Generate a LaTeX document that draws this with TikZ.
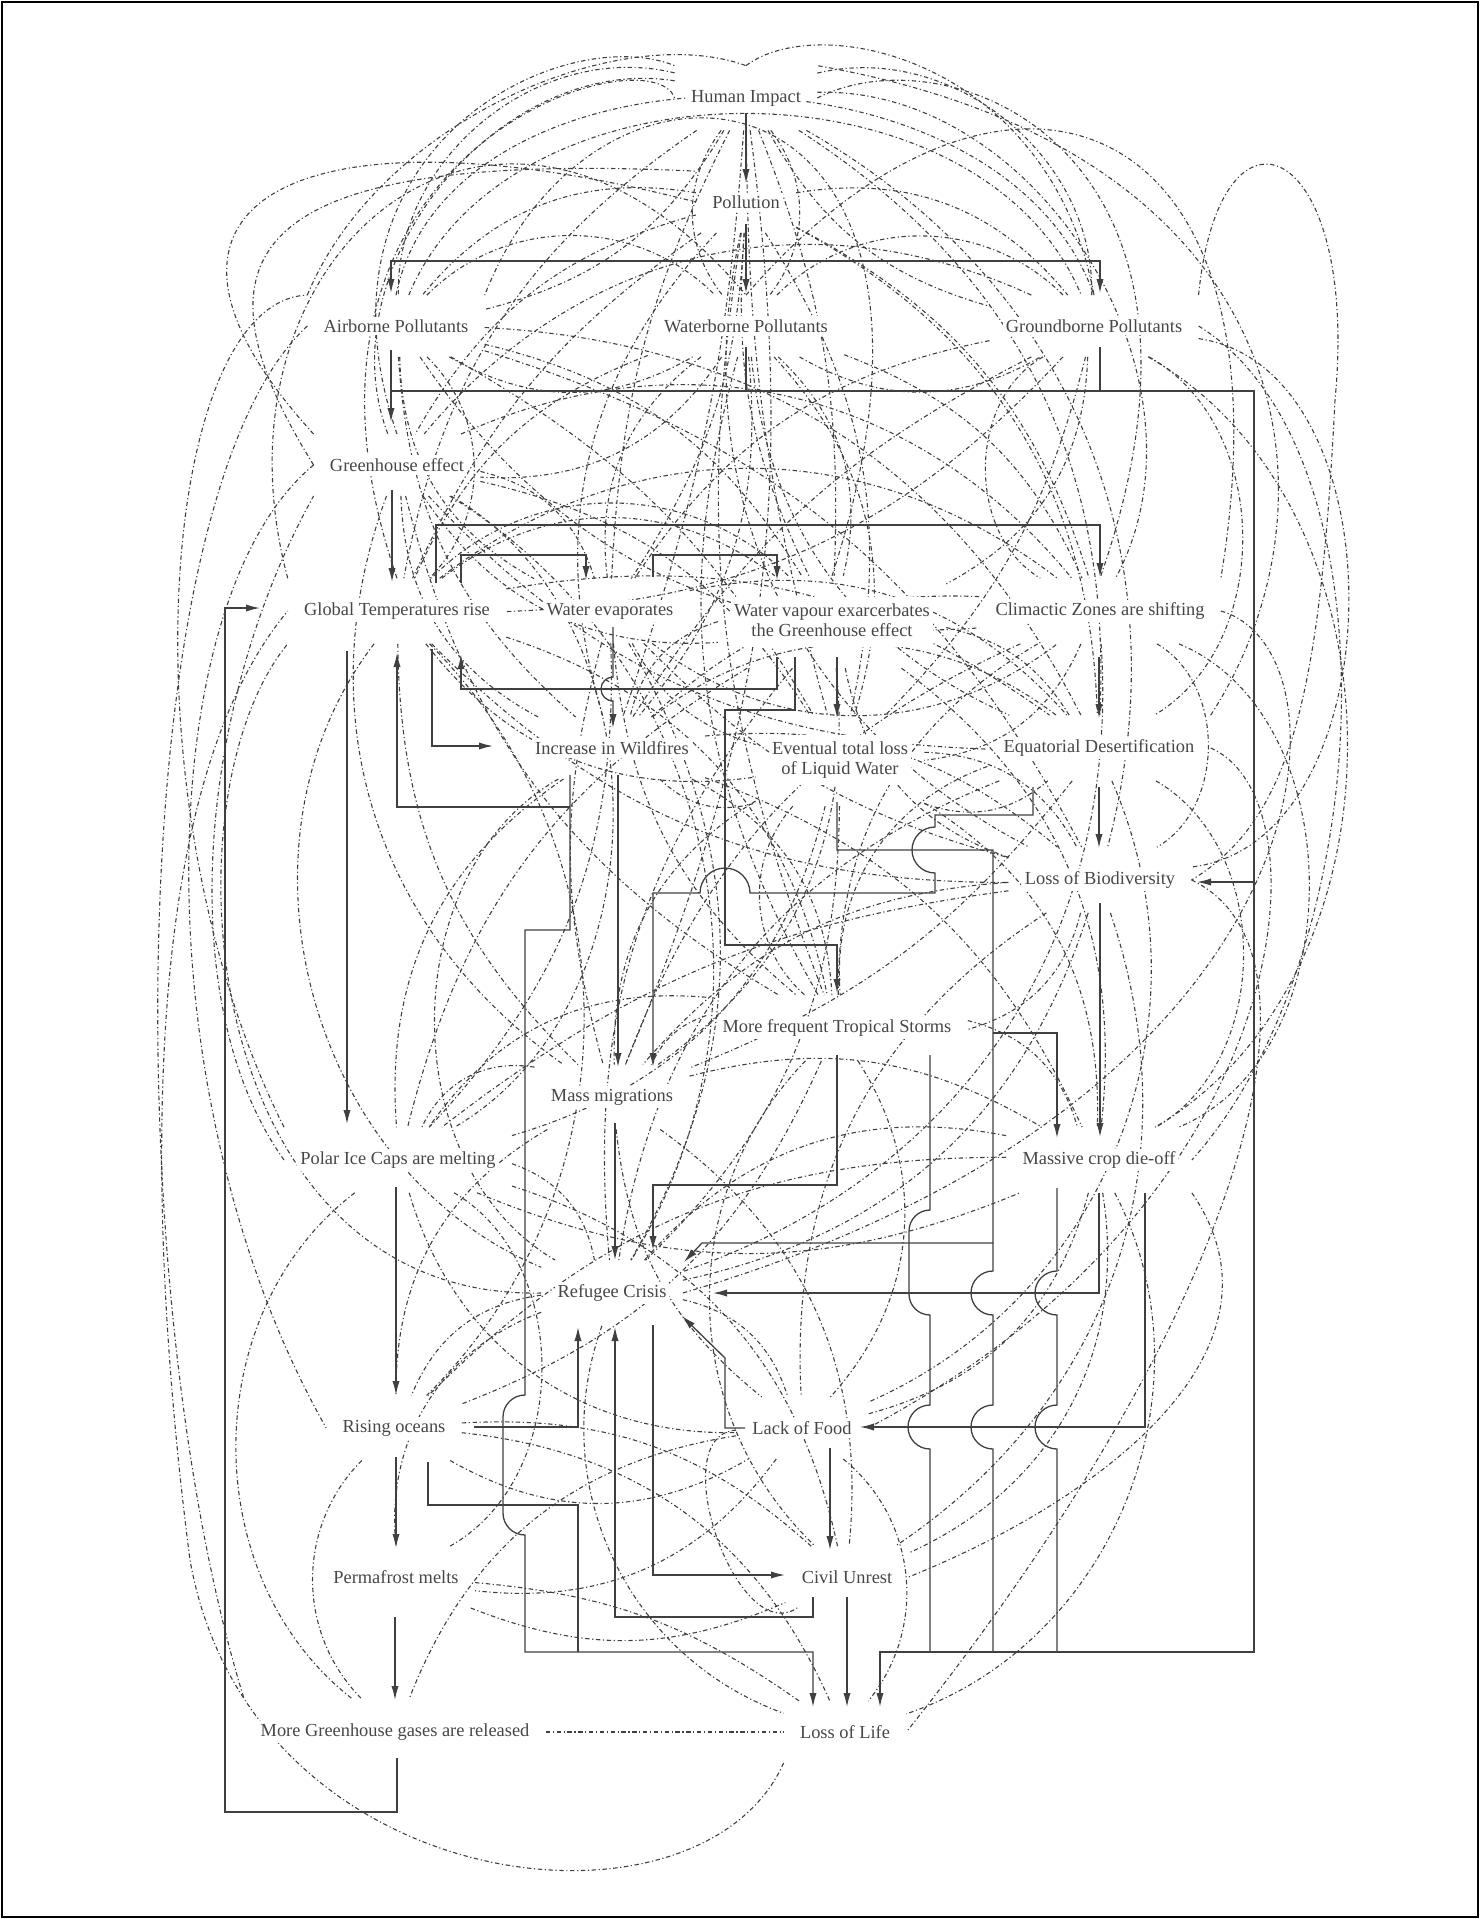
\documentclass[tikz,border=0pt]{standalone}
\usepackage{fontspec}
\setmainfont{Liberation Serif}
\usetikzlibrary{arrows.meta,calc}
\pgfdeclarelayer{bg}
\pgfsetlayers{bg,main}
\newcommand{\wbx}[1]{{\setlength{\fboxsep}{1.5pt}\colorbox{white}{#1}}}
\newcommand{\wbt}[2]{{\setlength{\fboxsep}{1.5pt}\colorbox{white}{\begin{tabular}{@{}c@{}}#1\\[-1.2pt]#2\end{tabular}}}}
\begin{document}
\begin{tikzpicture}[x=0.5pt,y=-0.5pt,
  nd/.style={font=\fontsize{9.2}{11.5}\selectfont, text=black!72, inner xsep=6.5pt, inner ysep=10.5pt, align=center},
  dd/.style={draw=black!75, line width=0.55pt, dash pattern=on 2.2pt off 1.3pt on 0.6pt off 1.3pt},
  sl/.style={draw=black!75, line width=0.65pt},
  sa/.style={sl, -{Latex[length=7pt,width=3.6pt]}}]
\useasboundingbox (0,0) rectangle (1480,1919);
\draw[line width=1pt] (2,2) rectangle (1478,1917);
% nodes
\node[nd] (HI) at (746,98) {\wbx{Human Impact}};
\node[nd] (PO) at (746,202) {\wbx{Pollution}};
\node[nd] (AP) at (396,326) {\wbx{Airborne Pollutants}};
\node[nd] (WP) at (746,326) {\wbx{Waterborne Pollutants}};
\node[nd] (GP) at (1094,326) {\wbx{Groundborne Pollutants}};
\node[nd] (GH) at (397,465) {\wbx{Greenhouse effect}};
\node[nd] (GT) at (397,611) {\wbx{Global Temperatures rise}};
\node[nd] (WE) at (610,611) {\wbx{Water evaporates}};
\node[nd] (WV) at (832,622) {\wbt{Water vapour exarcerbates}{the Greenhouse effect}};
\node[nd] (CZ) at (1100,611) {\wbx{Climactic Zones are shifting}};
\node[nd] (IW) at (612,748) {\wbx{Increase in Wildfires}};
\node[nd] (EL) at (840,760) {\wbt{Eventual total loss}{of Liquid Water}};
\node[nd] (ED) at (1099,748) {\wbx{Equatorial Desertification}};
\node[nd] (LB) at (1100,880) {\wbx{Loss of Biodiversity}};
\node[nd] (TS) at (837,1028) {\wbx{More frequent Tropical Storms}};
\node[nd] (MM) at (612,1097) {\wbx{Mass migrations}};
\node[nd] (PI) at (398,1160) {\wbx{Polar Ice Caps are melting}};
\node[nd] (MC) at (1099,1160) {\wbx{Massive crop die-off}};
\node[nd] (RC) at (612,1293) {\wbx{Refugee Crisis}};
\node[nd] (RO) at (394,1428) {\wbx{Rising oceans}};
\node[nd] (LF) at (802,1428) {\wbx{Lack of Food}};
\node[nd] (PM) at (396,1577) {\wbx{Permafrost melts}};
\node[nd] (CU) at (847,1577) {\wbx{Civil Unrest}};
\node[nd] (MG) at (395,1732) {\wbx{More Greenhouse gases are released}};
\node[nd] (LL) at (845,1732) {\wbx{Loss of Life}};
\begin{pgfonlayer}{bg}
% dash-dotted web
\foreach \a/\b/\c in {HI/AP/-35, HI/AP/15, HI/GP/35, HI/GP/-15, HI/WP/25, HI/WP/-25, HI/GH/-40, HI/CZ/40, HI/GT/-15, HI/WE/-8, HI/WV/8, HI/ED/20, HI/IW/5, HI/EL/-5, HI/LB/25, HI/MM/10,
PO/AP/-20, PO/GP/20, PO/GH/-15, PO/GT/-10, PO/WE/10, PO/WV/-10, PO/CZ/15, PO/ED/20, PO/LB/-25, PO/IW/-20, PO/EL/15, PO/TS/-10,
AP/WP/30, WP/GP/30, AP/GP/45, AP/WP/-20, WP/GP/-20, AP/GT/30, AP/WE/-20, AP/WV/15, AP/CZ/-20, AP/ED/20, AP/IW/-15, AP/EL/10, AP/LB/15,
WP/GH/20, WP/GT/-15, WP/WE/-20, WP/WV/20, WP/CZ/15, WP/ED/-20, WP/EL/20, WP/IW/15, WP/TS/-15,
GP/GH/-25, GP/GT/15, GP/WE/-15, GP/WV/20, GP/CZ/-40, GP/ED/40, GP/LB/55, GP/IW/-10, GP/EL/10, GP/MC/40,
GH/WE/20, GH/WV/-20, GH/CZ/25, GH/IW/-20, GH/EL/15, GH/ED/-15, GH/PI/40, GH/MM/-25, GH/TS/-15, GH/RC/30,
GT/WV/25, GT/EL/-20, GT/ED/15, GT/MM/-15, GT/TS/20, GT/RO/30, GT/CZ/25, GT/LB/-15, GT/RC/-35,
WE/CZ/-25, WE/EL/-15, WE/ED/20, WE/TS/-15, WE/LB/-10, WE/MM/-10, WE/PI/15, WE/RC/20,
WV/IW/-20, WV/ED/15, WV/LB/-20, WV/MM/20, WV/PI/-15, WV/MC/20, WV/GT/-30, WV/RC/-15,
CZ/IW/-15, CZ/EL/20, CZ/LB/40, CZ/MC/45, CZ/TS/-20, CZ/MM/-15, CZ/RC/25,
IW/EL/-20, IW/ED/25, IW/TS/20, IW/PI/-20, IW/RC/-40, IW/LB/15, IW/MC/15,
EL/ED/-20, EL/LB/20, EL/TS/-30, EL/MM/-20, EL/MC/20, EL/RC/15, EL/PI/20,
ED/TS/-25, ED/MC/40, ED/RC/-20, ED/MM/10, ED/LF/30,
LB/TS/20, LB/MM/-15, LB/RC/20, LB/PI/-10, LB/LF/-20, LB/CU/25,
TS/MM/-15, TS/MC/20, TS/PI/-20, TS/LF/25, TS/RO/15, TS/CU/-30,
MM/PI/-25, MM/MC/15, MM/RO/-20, MM/LF/-15, MM/CU/20,
PI/RC/20, PI/MC/-15, PI/LF/-25, PI/MG/-35, PI/CU/20, PI/PM/40,
MC/RC/-20, MC/LF/20, MC/CU/25, MC/LL/33, MC/RO/-15,
RC/RO/-20, RC/LF/20, RC/LL/-30, RC/PM/-25,
RO/LF/-20, RO/CU/15, RO/MG/-30, RO/LL/20,
LF/PM/20, LF/LL/30, LF/CU/-70, LF/MG/-20,
PM/CU/-15, PM/LL/10}
{\draw[dd] (\a) to[bend left={1.5*(\c)}] (\b);}
\draw[dd] (MG) -- (LL);
% outer dash-dotted loops
\draw[dd] (LL.south west) .. controls (700,1950) and (250,1900) .. (190,1560) .. controls (150,1250) and (130,800) .. (GT.west);
\draw[dd] (AP.west) .. controls (120,500) and (120,1300) .. (MG.north west);
\draw[dd] (GH.west) .. controls (150,600) and (140,1100) .. (RO.west);
\draw[dd] (PI.west) .. controls (170,1000) and (200,700) .. (GH.south west);
\draw[dd] (GP.east) .. controls (1400,450) and (1380,950) .. (MC.east);
\draw[dd] (GP.north east) .. controls (1220,80) and (1360,140) .. (1335,400) .. controls (1320,700) and (1290,820) .. (LB.east);
\draw[dd] (ED.east) .. controls (1330,800) and (1300,1200) .. (LF.east);
\draw[dd] (LB.east) .. controls (1340,950) and (1250,1300) .. (LL.east);
\draw[dd] (CZ.east) .. controls (1360,650) and (1340,1100) .. (RC.east);
\draw[dd] (AP.north west) .. controls (380,120) and (620,20) .. (HI.north);
\draw[dd] (HI.north) .. controls (820,10) and (1050,60) .. (GP.north);
\draw[dd] (GT.north west) .. controls (200,250) and (500,0) .. (WP.north);
\draw[dd] (WP.north) .. controls (1000,0) and (1300,100) .. (CZ.north east);
\draw[dd] (GH.north west) .. controls (100,200) and (300,100) .. (PO.west);
\draw[dd] (AP.north) .. controls (450,30) and (1000,30) .. (GP.north);
\draw[dd] (GT.north) .. controls (250,150) and (650,30) .. (HI.west);
\draw[dd] (HI.east) .. controls (950,30) and (1250,150) .. (CZ.north);
\draw[dd] (GH.north) .. controls (300,150) and (560,20) .. (HI.north west);
\draw[dd] (WV.north) .. controls (1000,60) and (600,0) .. (AP.north east);
\draw[dd] (GH.west) .. controls (180,250) and (250,150) .. (PO.north west);
\draw[dd] (ED.north east) .. controls (1350,500) and (1300,150) .. (HI.north east);
\draw[dd] (PI.north west) .. controls (120,800) and (160,300) .. (AP.north west);
\draw[dd] (RC.west) .. controls (200,1300) and (160,800) .. (GT.south west);
\draw[dd] (MC.south east) .. controls (1300,1350) and (1100,1500) .. (CU.east);
\end{pgfonlayer}
% solid connectors
\coordinate (j1) at (746,261);
\coordinate (j2) at (1254,882);
\coordinate (j3) at (570,807);
\coordinate (j4) at (993,1243);
\coordinate (j5) at (993,1033);
\draw[sa] ($(HI)+(0,15)$) -- ($(PO)+(0,-19)$);
\draw[sa] ($(PO)+(0,22)$) -- ($(WP)+(0,-33)$);
\draw[sa] (j1) -| ($(AP)+(-5,-33)$);
\draw[sa] (j1) -| ($(GP)+(6,-33)$);
\draw[sa] ($(AP)+(-5,24)$) -- ($(GH)+(-6,-43)$);
\draw[sl] ($(WP)+(0,21)$) -- (746,391);
\draw[sl] ($(GP)+(6,21)$) -- (1100,391);
\draw[sa] (391,391) -- (1254,391) -- (1254,1652) -- (880,1652) -- ($(LL)+(35,-25)$);
\draw[sa] (j2) -- ($(LB)+(97,2)$);
\draw[sa] ($(GH)+(-5,25)$) -- ($(GT)+(-5,-29)$);
\draw[sa] ($(GT)+(39,-28)$) |- (1100,525) -- ($(CZ)+(0,-34)$);
\draw[sa] ($(GT)+(64,-28)$) |- (586,555) -- ($(WE)+(-24,-31)$);
\draw[sa] ($(WE)+(43,-34)$) |- (777,555) -- ($(WV)+(-55,-42)$);
\draw[sa] ($(WV)+(-55,35)$) |- (461,689) -- ($(GT)+(64,44)$);
\draw[sa] ($(WE)+(3,16)$) -- (613,677) arc[start angle=270, end angle=90, radius=12] -- ($(IW)+(1,-20)$);
\draw[sa] ($(GT)+(35,38)$) |- ($(IW)+(-119,-2)$);
\draw[sa] ($(IW)+(-42,27)$) -- (570,930) -- (525,930) -- (525,1395) arc[start angle=270, end angle=180, radius=22] -- (503,1513) arc[start angle=180, end angle=90, radius=22] -- (525,1652) -- (813,1652) -- ($(LL)+(-32,-25)$);
\draw[sa] (j3) -| ($(GT)+(0,42)$);
\draw[sa] ($(IW)+(6,27)$) -- ($(MM)+(6,-30)$);
\draw[sa] ($(GT)+(-50,40)$) -- ($(PI)+(-51,-36)$);
\draw[sa] ($(WV)+(5,35)$) -- ($(EL)+(-3,-42)$);
\draw[sa] ($(WV)+(-37,35)$) |- (725,710) -- (725,945) -| ($(TS)+(0,-35)$);
\draw[sa] ($(CZ)+(-1,46)$) -- ($(ED)+(0,-30)$);
\draw[sa] ($(ED)+(0,39)$) -- ($(LB)+(-1,-32)$);
\draw[sa] ($(ED)+(-66,39)$) |- (935,815) -- (935,827) arc[start angle=270, end angle=90, radius=23] -- (935,893) -- (750,893) arc[start angle=0, end angle=-180, radius=25] -- (653,893) -- ($(MM)+(41,-30)$);
\draw[sl] ($(EL)+(-3,42)$) |- (993,850) -- (993,1271) arc[start angle=270, end angle=90, radius=22] -- (993,1405) arc[start angle=270, end angle=90, radius=22] -- (993,1652);
\draw[sa] (j4) -- (702,1243) -- ($(RC)+(72,-31)$);
\draw[sa] (j5) -| ($(MC)+(-42,-22)$);
\draw[sa] ($(TS)+(0,27)$) |- (653,1185) -- ($(RC)+(41,-43)$);
\draw[sl] ($(TS)+(93,27)$) -- (930,1210) arc[start angle=270, end angle=180, radius=21] -- (909,1294) arc[start angle=180, end angle=90, radius=21] -- (930,1405) arc[start angle=270, end angle=90, radius=22] -- (930,1652);
\draw[sa] ($(LB)+(0,23)$) -- ($(MC)+(1,-23)$);
\draw[sa] ($(MC)+(0,33)$) |- ($(RC)+(101,0)$);
\draw[sa] ($(MC)+(46,33)$) |- ($(LF)+(58,-1)$);
\draw[sl] ($(MC)+(-42,28)$) -- (1057,1271) arc[start angle=270, end angle=90, radius=22] -- (1057,1405) arc[start angle=270, end angle=90, radius=22] -- (1057,1652);
\draw[sa] ($(MM)+(3,26)$) -- ($(RC)+(3,-33)$);
\draw[sa] ($(PI)+(-2,27)$) -- ($(RO)+(2,-33)$);
\draw[sa] ($(RO)+(2,29)$) -- ($(PM)+(0,-29)$);
\draw[sa] ($(PM)+(-1,40)$) -- ($(MG)+(0,-32)$);
\draw[sa] ($(MG)+(2,26)$) |- (225,1812) -- (225,608) -- ($(GT)+(-137,-3)$);
\draw[sa] ($(RO)+(80,-1)$) -| ($(RC)+(-34,34)$);
\draw[sl] ($(RO)+(34,34)$) |- (578,1505) -- (578,1652);
\draw[sa] ($(RC)+(41,32)$) |- ($(CU)+(-62,-2)$);
\draw[sa] ($(CU)+(-34,20)$) |- (615,1617) -- ($(RC)+(3,34)$);
\draw[sa] ($(LF)+(-57,0)$) -- (725,1428) -- (725,1358) -- ($(RC)+(70,23)$);
\draw[sa] ($(LF)+(28,20)$) -- ($(CU)+(-17,-27)$);
\draw[sa] ($(CU)+(0,20)$) -- ($(LL)+(2,-25)$);
\end{tikzpicture}
\end{document}
